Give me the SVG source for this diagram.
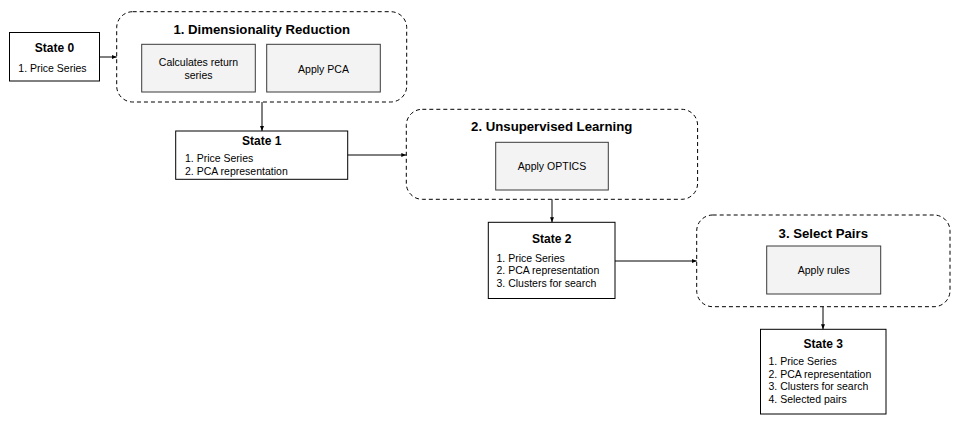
<svg xmlns="http://www.w3.org/2000/svg" width="959" height="425" viewBox="0 0 959 425">
<defs>
<style>
.bg{fill:#ffffff}
.state{fill:#ffffff;stroke:#000;stroke-width:1}
.grp{fill:#ffffff;stroke:#000;stroke-width:1;stroke-dasharray:4 3}
.step{fill:#f3f3f3;stroke:#3a3a3a;stroke-width:1}
.st{font-family:"Liberation Sans",Arial,sans-serif;font-weight:bold;font-size:12px;fill:#000;text-anchor:middle}
.gt{font-family:"Liberation Sans",Arial,sans-serif;font-weight:bold;font-size:13.2px;fill:#000;text-anchor:middle}
.tx{font-family:"Liberation Sans",Arial,sans-serif;font-size:10.5px;fill:#000}
.c{text-anchor:middle}
.conn{stroke:#000;stroke-width:1;fill:none;marker-end:url(#ah)}
</style>
<marker id="ah" markerUnits="userSpaceOnUse" markerWidth="5" markerHeight="5" viewBox="0 0 5 5" refX="5" refY="2.5" orient="auto">
<path d="M0,0.5 L5,2.5 L0,4.5 Z" fill="#000"/>
</marker>
</defs>
<rect class="bg" width="959" height="425"/>

<g id="group1">
<rect class="grp" x="116.7" y="11.7" width="290" height="90.3" rx="16" ry="16"/>
<text class="gt" x="261.7" y="33.8">1. Dimensionality Reduction</text>
</g>
<g id="calc-returns">
<rect class="step" x="141.7" y="44.3" width="113.6" height="47.7"/>
<text class="tx c" x="198.5" y="66">Calculates return</text>
<text class="tx c" x="198.5" y="78.8">series</text>
</g>
<g id="apply-pca">
<rect class="step" x="266.7" y="44.3" width="113.6" height="47.7"/>
<text class="tx c" x="323.5" y="72.5">Apply PCA</text>
</g>

<g id="group2">
<rect class="grp" x="406.3" y="109.3" width="291.3" height="90" rx="16" ry="16"/>
<text class="gt" x="551.7" y="131.4">2. Unsupervised Learning</text>
</g>
<g id="apply-optics">
<rect class="step" x="495.7" y="142.3" width="112.6" height="47.7"/>
<text class="tx c" x="552" y="170.3">Apply OPTICS</text>
</g>

<g id="group3">
<rect class="grp" x="696.7" y="215" width="253.3" height="91.7" rx="16" ry="16"/>
<text class="gt" x="823.3" y="238">3. Select Pairs</text>
</g>
<g id="apply-rules">
<rect class="step" x="766.7" y="246" width="114" height="48"/>
<text class="tx c" x="823.7" y="274">Apply rules</text>
</g>

<g id="state0">
<rect class="state" x="9.5" y="32.5" width="90" height="48.5"/>
<text class="st" x="54.5" y="52.3">State 0</text>
<text class="tx" x="18.3" y="71.8">1. Price Series</text>
</g>

<g id="state1">
<rect class="state" x="175.7" y="131" width="172" height="48.3"/>
<text class="st" x="261.7" y="144.5">State 1</text>
<text class="tx" x="185" y="162.2">1. Price Series</text>
<text class="tx" x="185" y="175.4">2. PCA representation</text>
</g>

<g id="state2">
<rect class="state" x="488.3" y="222.3" width="126.7" height="76.2"/>
<text class="st" x="551.7" y="242.6">State 2</text>
<text class="tx" x="496.5" y="261.6">1. Price Series</text>
<text class="tx" x="496.5" y="274.1">2. PCA representation</text>
<text class="tx" x="496.5" y="286.6">3. Clusters for search</text>
</g>

<g id="state3">
<rect class="state" x="760.5" y="329.3" width="125.5" height="84.7"/>
<text class="st" x="823.3" y="348.3">State 3</text>
<text class="tx" x="768.5" y="365">1. Price Series</text>
<text class="tx" x="768.5" y="377.6">2. PCA representation</text>
<text class="tx" x="768.5" y="390.2">3. Clusters for search</text>
<text class="tx" x="768.5" y="402.8">4. Selected pairs</text>
</g>

<g id="connectors">
<line class="conn" x1="99.5" y1="57" x2="116.7" y2="57"/>
<line class="conn" x1="262" y1="102" x2="262" y2="131"/>
<line class="conn" x1="347.7" y1="155" x2="406.3" y2="155"/>
<line class="conn" x1="552" y1="199.3" x2="552" y2="222.3"/>
<line class="conn" x1="615" y1="261" x2="696.7" y2="261"/>
<line class="conn" x1="823" y1="306.7" x2="823" y2="329.3"/>
</g>
</svg>
